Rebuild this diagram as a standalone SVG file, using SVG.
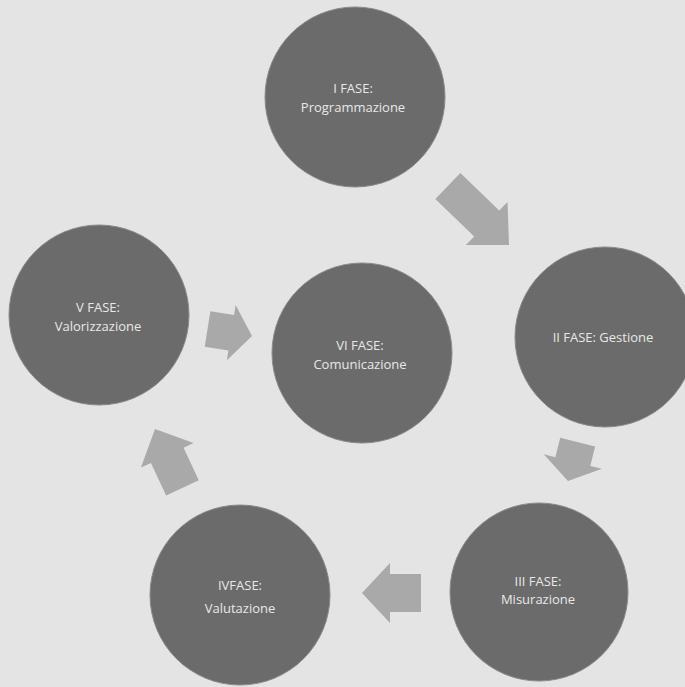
<svg xmlns="http://www.w3.org/2000/svg" width="685" height="687" viewBox="0 0 685 687">
<style>
.bg{fill:#e4e4e4}
.node circle{fill:#6b6b6b;stroke:#8a8a8a;stroke-width:1}
.node text{font-family:"Open Sans","Liberation Sans",sans-serif;font-size:13px;fill:#e8e8e8;text-anchor:middle}
.arr{fill:#a9a9a9}
</style>
<rect class="bg" x="0" y="0" width="685" height="687"/>
<g id="connectors">
<polygon class="arr" points="-85,-18 -31,-18 -31,-30 0,0 -31,30 -31,18 -85,18" transform="translate(509,245) rotate(44)"/>
<polygon class="arr" points="-40,-18 -20,-18 -20,-30 0,0 -20,30 -20,18 -40,18" transform="translate(568,481) rotate(104)"/>
<polygon class="arr" points="-59,-19 -28,-19 -28,-30 0,0 -28,30 -28,19 -59,19" transform="translate(362,593) rotate(180)"/>
<polygon class="arr" points="-65,-18 -29,-18 -29,-29 0,0 -29,29 -29,18 -65,18" transform="translate(155,429) rotate(-115)"/>
<polygon class="arr" points="-45,-18 -21,-18 -21,-28 0,0 -21,28 -21,18 -45,18" transform="translate(252,336) rotate(9)"/>
</g>
<g id="fase1" class="node">
<circle cx="355" cy="97" r="90"/>
<text x="353" y="93">I FASE:</text>
<text x="353" y="112">Programmazione</text>
</g>
<g id="fase2" class="node">
<circle cx="605" cy="337" r="90"/>
<text x="603" y="342">II FASE: Gestione</text>
</g>
<g id="fase3" class="node">
<circle cx="539" cy="592" r="89"/>
<text x="538" y="586">III FASE:</text>
<text x="538" y="604">Misurazione</text>
</g>
<g id="fase4" class="node">
<circle cx="240" cy="595" r="90"/>
<text x="240" y="590">IVFASE:</text>
<text x="240" y="613">Valutazione</text>
</g>
<g id="fase5" class="node">
<circle cx="99" cy="315" r="90"/>
<text x="98" y="312">V FASE:</text>
<text x="98" y="331">Valorizzazione</text>
</g>
<g id="fase6" class="node">
<circle cx="362" cy="353" r="90"/>
<text x="360" y="350">VI FASE:</text>
<text x="360" y="369">Comunicazione</text>
</g>
</svg>
